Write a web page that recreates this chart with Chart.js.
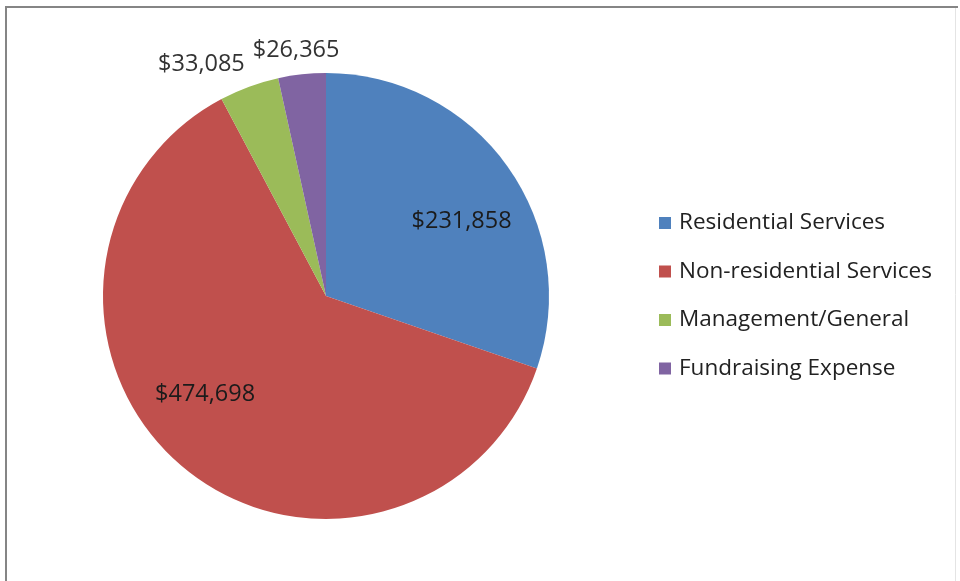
<!DOCTYPE html>
<html>
<head>
<meta charset="utf-8">
<script src="https://cdn.jsdelivr.net/npm/chart.js@4/dist/chart.umd.min.js"></script>
<style>
  html, body { margin: 0; padding: 0; background: #ffffff; }
  #wrap { width: 960px; height: 581px; position: relative; }
</style>
</head>
<body>
<div id="wrap"><canvas id="c" width="960" height="581"></canvas></div>
<script>
// ---- data ----
const categories = ["Residential Services", "Non-residential Services", "Management/General", "Fundraising Expense"];
const expenses = [231858, 474698, 33085, 26365];
const sliceColors = ["#4F81BD", "#C0504D", "#9BBB59", "#8064A2"];

// label placement style: fraction along slice angle, radius factor
const labelAngleFrac = [0.56, 0.546, -0.02, 0.44];
const labelRadiusFrac = [0.695, 0.70, 1.18, 1.11];

const FONT = "'Open Sans', Lato, sans-serif";

function fmt(v) { return "$" + v.toLocaleString("en-US"); }

const framePlugin = {
  id: "frame",
  beforeDraw(chart) {
    const ctx = chart.ctx;
    ctx.save();
    ctx.fillStyle = "#ffffff";
    ctx.fillRect(0, 0, chart.width, chart.height);
    ctx.strokeStyle = "#858585";
    ctx.lineWidth = 2;
    ctx.beginPath();
    ctx.moveTo(6, 581);
    ctx.lineTo(6, 7);
    ctx.lineTo(958, 7);
    ctx.stroke();
    ctx.strokeStyle = "#e4e4e4";
    ctx.lineWidth = 1;
    ctx.beginPath();
    ctx.moveTo(955.5, 8);
    ctx.lineTo(955.5, 581);
    ctx.stroke();
    ctx.restore();
  }
};

const labelPlugin = {
  id: "sliceLabels",
  afterDatasetsDraw(chart) {
    const ctx = chart.ctx;
    const meta = chart.getDatasetMeta(0);
    ctx.save();
    ctx.font = "23.5px " + FONT;
    ctx.textAlign = "center";
    ctx.textBaseline = "middle";
    meta.data.forEach((arc, i) => {
      const p = arc.getProps(["x", "y", "startAngle", "endAngle", "outerRadius"], true);
      const a = p.startAngle + (p.endAngle - p.startAngle) * labelAngleFrac[i];
      const r = p.outerRadius * labelRadiusFrac[i];
      const x = p.x + Math.cos(a) * r;
      const y = p.y + Math.sin(a) * r;
      ctx.fillStyle = labelRadiusFrac[i] < 1 ? "#1b1b1b" : "#333333";
      ctx.fillText(fmt(chart.data.datasets[0].data[i]), x, y);
    });
    ctx.restore();
  }
};

const legendPlugin = {
  id: "sideLegend",
  afterDraw(chart) {
    const ctx = chart.ctx;
    ctx.save();
    ctx.font = "22.5px " + FONT;
    ctx.textAlign = "left";
    ctx.textBaseline = "middle";
    chart.data.labels.forEach((lab, i) => {
      const y = 223 + i * 48.5;
      ctx.fillStyle = sliceColors[i];
      ctx.fillRect(659, y - 6, 12, 12);
      ctx.fillStyle = "#222222";
      ctx.fillText(lab, 679, y);
    });
    ctx.restore();
  }
};

new Chart(document.getElementById("c"), {
  type: "pie",
  data: {
    labels: categories,
    datasets: [{
      data: expenses,
      backgroundColor: sliceColors,
      borderWidth: 0
    }]
  },
  options: {
    responsive: false,
    animation: false,
    layout: { padding: { left: 103, right: 411, top: 73, bottom: 62 } },
    plugins: {
      legend: { display: false },
      title: { display: false },
      tooltip: { enabled: false }
    }
  },
  plugins: [framePlugin, labelPlugin, legendPlugin]
});
</script>
</body>
</html>
